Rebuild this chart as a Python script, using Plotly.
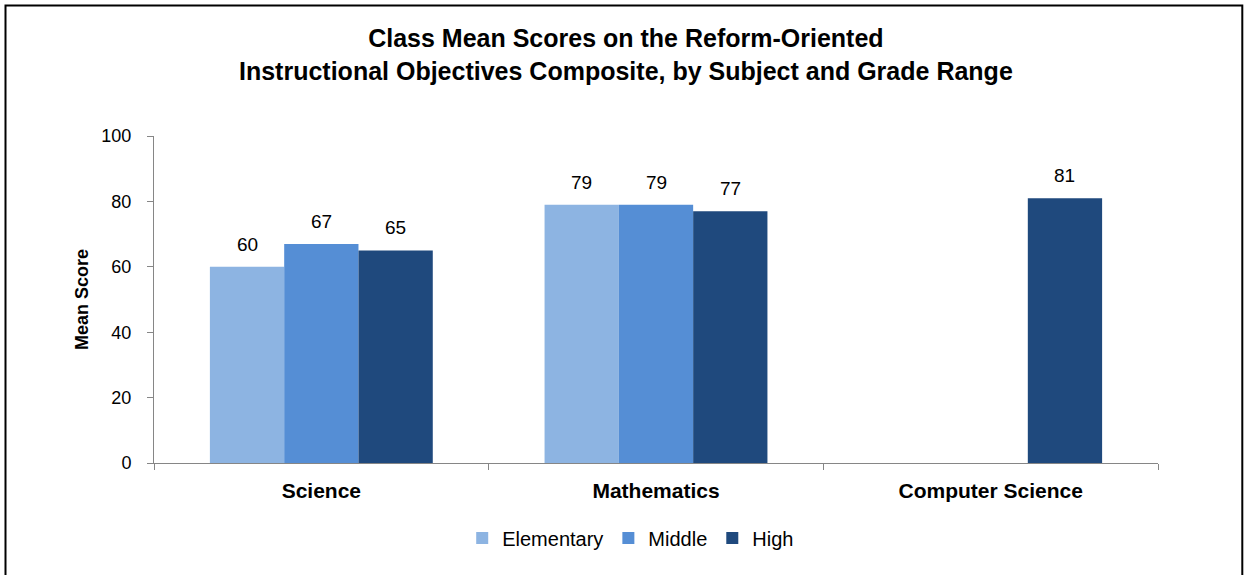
import plotly.graph_objects as go

subjects = ["Science", "Mathematics", "Computer Science"]
grade_ranges = ["Elementary", "Middle", "High"]
elementary = [60, 79, None]
middle = [67, 79, None]
high = [65, 77, 81]
colors = ["#8DB4E2", "#558ED5", "#1F497D"]
y_ticks = [0, 20, 40, 60, 80, 100]
title_lines = [
    "Class Mean Scores on the Reform-Oriented",
    "Instructional Objectives Composite, by Subject and Grade Range",
]

font_family = "Liberation Sans, Arial, sans-serif"

W, H = 1244, 575
ML, MR, MT, MB = 154, 86, 136, 112
plot_w = W - ML - MR
plot_h = H - MT - MB

fig = go.Figure()
series = [elementary, middle, high]
for name, vals, col in zip(grade_ranges, series, colors):
    fig.add_trace(go.Bar(
        x=subjects, y=vals, name=name,
        marker=dict(color=col, line=dict(width=0)),
    ))

# value labels above each bar (pixel offset of each bar within its group)
bar_px = plot_w / len(subjects) * (1 - 0.334) / len(grade_ranges)
for i, vals in enumerate(series):
    shift = (i - 1) * bar_px
    for subj, v in zip(subjects, vals):
        if v is None:
            continue
        fig.add_annotation(
            x=subj, y=v, xref="x", yref="y", text=str(v), showarrow=False,
            xshift=shift, yshift=10, yanchor="bottom",
            font=dict(size=19, family=font_family, color="#000000"),
        )

# two-line chart title
fig.add_annotation(
    xref="paper", yref="paper",
    x=(W / 2 + 4 - ML) / plot_w, y=(H - MB - 54) / plot_h,
    text="<br>".join(f"<b>{t}</b>" for t in title_lines), showarrow=False,
    xanchor="center", yanchor="middle", align="center",
    font=dict(size=25, family=font_family, color="#000000"),
)

fig.update_layout(
    width=W, height=H,
    margin=dict(l=ML, r=MR, t=MT, b=MB),
    paper_bgcolor="white", plot_bgcolor="white",
    barmode="group", bargap=0.334, bargroupgap=0,
    font=dict(family=font_family, color="#000000"),
    xaxis=dict(
        showline=True, linecolor="#868686", linewidth=1,
        ticks="outside", ticklen=6, tickcolor="#868686", tickson="boundaries",
        tickfont=dict(size=21, family=font_family),
        ticklabelstandoff=9,
        tickvals=subjects,
        ticktext=[f"<b>{s}</b>" for s in subjects],
        showgrid=False,
    ),
    yaxis=dict(
        range=[0, 100], tickvals=y_ticks,
        showline=True, linecolor="#868686", linewidth=1,
        ticks="outside", ticklen=6, tickcolor="#868686",
        tickfont=dict(size=18, family=font_family),
        ticklabelstandoff=12,
        showgrid=False, zeroline=False,
        title=dict(text="<b>Mean Score</b>", font=dict(size=18, family=font_family), standoff=8),
    ),
    legend=dict(
        orientation="h", xref="container", x=0.507, xanchor="center",
        yref="container", y=(H - 538) / H, yanchor="middle",
        font=dict(size=20, family=font_family),
        bgcolor="rgba(0,0,0,0)",
        itemwidth=30,
    ),
    showlegend=True,
)

# outer frame of the chart (bottom edge falls below the page)
fig.add_shape(type="rect", xref="paper", yref="paper",
              x0=(5.5 - ML) / plot_w, x1=(1242.3 - ML) / plot_w,
              y0=-0.6, y1=(H - MB - 5.5) / plot_h,
              line=dict(color="#000000", width=2), layer="above")

fig.write_html("out.html")
